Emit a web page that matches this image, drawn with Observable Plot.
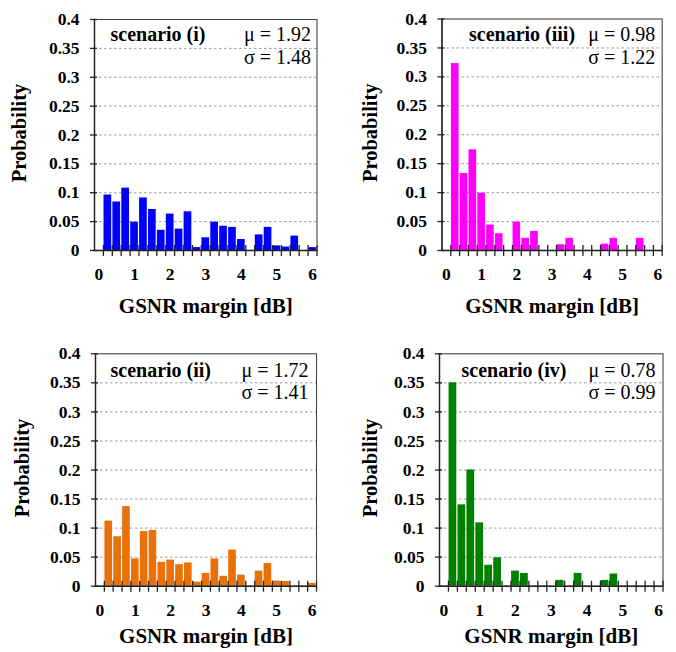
<!DOCTYPE html>
<html>
<head>
<meta charset="utf-8">
<script src="https://cdn.jsdelivr.net/npm/d3@7"></script>
<script src="https://cdn.jsdelivr.net/npm/@observablehq/plot@0.6"></script>
<style>
  html, body { margin: 0; padding: 0; background: #fff; }
  #chart { position: relative; width: 676px; height: 652px; background: #fff; }
  #chart svg { position: absolute; }
</style>
</head>
<body>
<div id="chart"></div>
<script>
// Bin centres (dB), bin width 0.25 dB
const binCenters = [0.25, 0.5, 0.75, 1.0, 1.25, 1.5, 1.75, 2.0, 2.25, 2.5, 2.75, 3.0,
                    3.25, 3.5, 3.75, 4.0, 4.25, 4.5, 4.75, 5.0, 5.25, 5.5, 5.75, 6.0];
const binEdges = [0.125, 0.375, 0.625, 0.875, 1.125, 1.375, 1.625, 1.875, 2.125, 2.375, 2.625,
                  2.875, 3.125, 3.375, 3.625, 3.875, 4.125, 4.375, 4.625, 4.875, 5.125, 5.375,
                  5.625, 5.875, 6.125];
const xTicks = [0, 1, 2, 3, 4, 5, 6];
const yTicks = [0, 0.05, 0.1, 0.15, 0.2, 0.25, 0.3, 0.35, 0.4];
const gridTicks = [0.05, 0.1, 0.15, 0.2, 0.25, 0.3, 0.35];

// Probabilities per scenario
const probI   = [0.096, 0.084, 0.108, 0.049, 0.091, 0.071, 0.035, 0.063, 0.037, 0.067, 0.005, 0.022,
                 0.049, 0.042, 0.040, 0.019, 0, 0.027, 0.040, 0.008, 0.006, 0.025, 0, 0.005];
const probII  = [0.112, 0.085, 0.137, 0.047, 0.094, 0.096, 0.041, 0.045, 0.037, 0.040, 0.007, 0.022,
                 0.047, 0.017, 0.062, 0.019, 0, 0.026, 0.039, 0.009, 0.008, 0, 0, 0.005];
const probIII = [0.323, 0.133, 0.174, 0.099, 0.044, 0.029, 0, 0.049, 0.021, 0.033, 0, 0,
                 0.010, 0.021, 0, 0, 0, 0.011, 0.021, 0, 0, 0.021, 0, 0];
const probIV  = [0.350, 0.140, 0.200, 0.109, 0.036, 0.049, 0, 0.026, 0.022, 0, 0, 0,
                 0.010, 0, 0.022, 0, 0, 0.010, 0.021, 0, 0, 0, 0, 0];

const scenarioNames = ["scenario (i)", "scenario (iii)", "scenario (ii)", "scenario (iv)"];
const muTexts    = ["μ = 1.92", "μ = 0.98", "μ = 1.72", "μ = 0.78"];
const sigmaTexts = ["σ = 1.48", "σ = 1.22", "σ = 1.41", "σ = 0.99"];
const colors = ["#0000ff", "#ff00ff", "#e8710a", "#008000"];
const series = [probI, probIII, probII, probIV];

const xLabel = "GSNR margin [dB]";
const yLabel = "Probability";

const FONT = "'Liberation Serif', 'Times New Roman', serif";

// layout per panel (page box + margins)
const panels = [
  {left: 0,   top: 0,   ml: 94,  mr: 21.5, mt: 19,   mb: 76,   ylDx: -69, scDx: 16, muDx: -6,  dy1: 21,   dy2: 44.5, xlDy: 62},
  {left: 338, top: 0,   ml: 103.5, mr: 14.3, mt: 18.5, mb: 76, ylDx: -65, scDx: 27, muDx: -7,  dy1: 21.5, dy2: 45,   xlDy: 62},
  {left: 0,   top: 326, ml: 95,  mr: 22,   mt: 27.3, mb: 66.3, ylDx: -67, scDx: 15, muDx: -8,  dy1: 23,   dy2: 45,   xlDy: 57},
  {left: 338, top: 326, ml: 101, mr: 13.5, mt: 27.3, mb: 66.3, ylDx: -63, scDx: 22, muDx: -7.5, dy1: 23,  dy2: 45,   xlDy: 57}
];

const chart = document.getElementById("chart");

panels.forEach((p, k) => {
  const data = binCenters.map((c, i) => ({x: c, p: series[k][i]}));
  const svg = Plot.plot({
    width: 338,
    height: 326,
    marginLeft: p.ml,
    marginRight: p.mr,
    marginTop: p.mt,
    marginBottom: p.mb,
    style: {fontFamily: FONT, fontSize: "17.5px", fontWeight: "bold", color: "#000", background: "transparent", overflow: "visible"},
    x: {domain: [-0.125, 6.125]},
    y: {domain: [0, 0.4]},
    marks: [
      Plot.ruleY(gridTicks, {x1: -0.125, x2: 6.125, stroke: "#9a9a9a", strokeWidth: 1, strokeDasharray: "2.5,2.5"}),
      Plot.rectY(data, {x1: d => d.x - 0.125, x2: d => d.x + 0.125, y: "p", fill: colors[k], insetLeft: 0.6, insetRight: 0.6}),
      Plot.frame({stroke: "#444", strokeWidth: 1.1}),
      Plot.ruleY([0], {x1: -0.125, x2: 6.125, stroke: "#222", strokeWidth: 1.4}),
      Plot.ruleX([-0.125], {y1: 0, y2: 0.4, stroke: "#222", strokeWidth: 1.4}),
      Plot.ruleX(binEdges, {x: d => d, y1: 0, y2: 0, insetTop: -5, insetBottom: -6, stroke: "#222", strokeWidth: 1.3}),
      Plot.ruleY(yTicks, {y: d => d, x1: -0.125, x2: -0.125, insetLeft: -4, insetRight: -3, stroke: "#222", strokeWidth: 1.3}),
      Plot.axisX({ticks: xTicks, tickSize: 0, tickPadding: 17, tickFormat: d => String(d), label: null,
                  fontSize: 17.5, fontWeight: "bold", fontFamily: FONT}),
      Plot.axisY({ticks: yTicks, tickSize: 0, tickPadding: 15, tickFormat: d => String(d), label: null,
                  fontSize: 17.5, fontWeight: "bold", fontFamily: FONT}),
      Plot.text([scenarioNames[k]], {frameAnchor: "top-left", textAnchor: "start", lineAnchor: "bottom",
                  dx: p.scDx, dy: p.dy1, fontSize: 20, fontWeight: "bold", fontFamily: FONT, fill: "#000"}),
      Plot.text([muTexts[k]], {frameAnchor: "top-right", textAnchor: "end", lineAnchor: "bottom",
                  dx: p.muDx, dy: p.dy1, fontSize: 20, fontWeight: "normal", fontFamily: FONT, fill: "#000"}),
      Plot.text([sigmaTexts[k]], {frameAnchor: "top-right", textAnchor: "end", lineAnchor: "bottom",
                  dx: p.muDx, dy: p.dy2, fontSize: 20, fontWeight: "normal", fontFamily: FONT, fill: "#000"}),
      Plot.text([xLabel], {frameAnchor: "bottom", textAnchor: "middle", lineAnchor: "bottom",
                  dy: p.xlDy, fontSize: 21, fontWeight: "bold", fontFamily: FONT, fill: "#000"}),
      Plot.text([yLabel], {frameAnchor: "left", textAnchor: "middle", lineAnchor: "bottom", rotate: -90,
                  dx: p.ylDx, dy: -2, fontSize: 20.5, fontWeight: "bold", fontFamily: FONT, fill: "#000"})
    ]
  });
  svg.style.left = p.left + "px";
  svg.style.top = p.top + "px";
  chart.appendChild(svg);
});
</script>
</body>
</html>
